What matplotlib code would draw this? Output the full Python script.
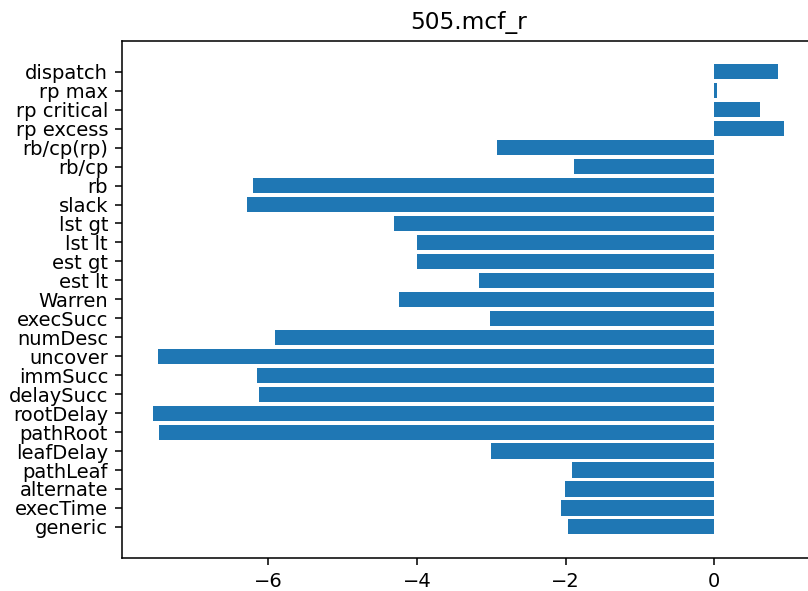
import matplotlib
matplotlib.use("Agg")
import matplotlib.pyplot as plt

# bar labels, bottom to top
labels = ['generic', 'execTime', 'alternate', 'pathLeaf', 'leafDelay', 'pathRoot',
          'rootDelay', 'delaySucc', 'immSucc', 'uncover', 'numDesc', 'execSucc',
          'Warren', 'est lt', 'est gt', 'lst lt', 'lst gt', 'slack', 'rb',
          'rb/cp', 'rb/cp(rp)', 'rp excess', 'rp critical', 'rp max', 'dispatch']
values = [-1.965, -2.059, -2.005, -1.911, -3.005, -7.474,
          -7.55, -6.132, -6.151, -7.491, -5.908, -3.023,
          -4.248, -3.171, -4.006, -4.006, -4.307, -6.285, -6.213,
          -1.893, -2.929, 0.938, 0.619, 0.032, 0.861]
title = '505.mcf_r'

W, H, DPI = 808, 591, 140
fig = plt.figure(figsize=(W / DPI, H / DPI), dpi=DPI)
# axes box in pixels: left 121.7, right 815.5 (past the crop), top 40.7, bottom 558
left, right, top, bottom = 121.7, 815.5, 40.7, 558.0
ax = fig.add_axes([left / W, (H - bottom) / H, (right - left) / W, (bottom - top) / H])

ax.barh(labels, values)
ax.set_title(title)

fig.savefig('out.png', dpi=DPI)
